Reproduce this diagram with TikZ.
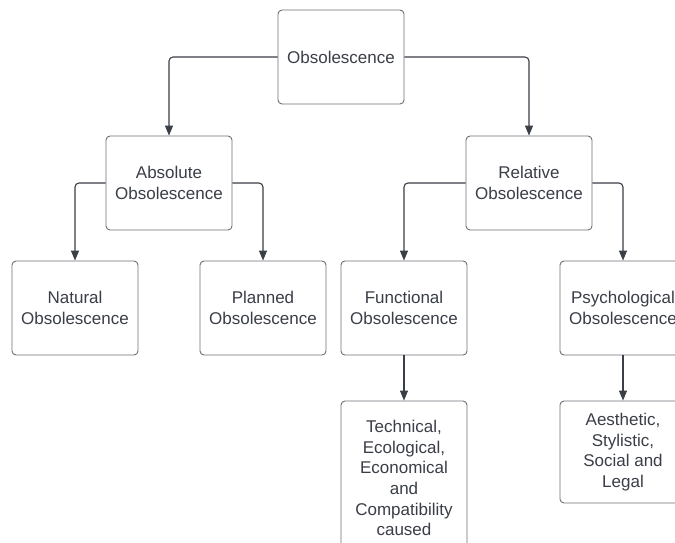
\documentclass[tikz,border=0pt]{standalone}
\usepackage{fontspec}
\setmainfont{Liberation Sans}
\usetikzlibrary{arrows.meta}
\definecolor{ink}{HTML}{3A3E47}
\definecolor{edge}{HTML}{6B6F76}
\begin{document}
\begin{tikzpicture}[x=1pt,y=-1pt,
  box/.style={draw=edge, line width=0.9pt, rounded corners=4pt,
    minimum width=126pt, minimum height=94pt, align=center, text=ink,
    font=\fontsize{17}{20.7}\selectfont, inner sep=0pt, fill=white},
  link/.style={draw=ink, line width=1.1pt, rounded corners=4pt,
    -{Triangle[length=10pt,width=8pt]}}]
\useasboundingbox (0,0) rectangle (675,542);
\clip (0,0) rectangle (675,542);

% hierarchy of obsolescence types
\node[box] (root) at (341,57) {Obsolescence};
\node[box] (abs) at (169,183) {Absolute\\Obsolescence};
\node[box] (rel) at (529,183) {Relative\\Obsolescence};
\node[box] (nat) at (75,308) {Natural\\Obsolescence};
\node[box] (pla) at (263,308) {Planned\\Obsolescence};
\node[box] (fun) at (404,308) {Functional\\Obsolescence};
\node[box] (psy) at (623,308) {Psychological\\Obsolescence};
\node[box, minimum height=154pt] (tec) at (404,478)
  {Technical,\\Ecological,\\Economical\\and\\Compatibility\\caused};
\node[box, minimum height=102pt] (aes) at (623,452)
  {Aesthetic,\\Stylistic,\\Social and\\Legal};

% connectors
\draw[link] (root.west) -| (abs.north);
\draw[link] (root.east) -| (rel.north);
\draw[link] (abs.west) -| (nat.north);
\draw[link] (abs.east) -| (pla.north);
\draw[link] (rel.west) -| (fun.north);
\draw[link] (rel.east) -| (psy.north);
\draw[link] (fun.south) -- (tec.north);
\draw[link] (psy.south) -- (aes.north);
\end{tikzpicture}
\end{document}
